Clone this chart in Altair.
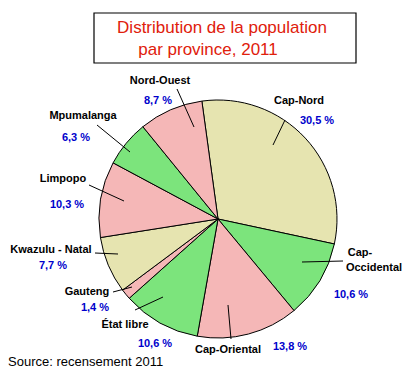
import math
import altair as alt
import pandas as pd

# ---- data ----
provinces = ["Cap-Nord", "Cap-Occidental", "Cap-Oriental", "État libre", "Gauteng",
             "Kwazulu-Natal", "Limpopo", "Mpumalanga", "Nord-Ouest"]
shares = [30.5, 10.6, 13.8, 10.6, 1.4, 7.7, 10.3, 6.3, 8.7]
slice_colors = ["#E6E4B0", "#7CE47C", "#F5B7B7", "#7CE47C", "#F5B7B7",
                "#E6E4B0", "#F5B7B7", "#7CE47C", "#F5B7B7"]
name_labels = ["Cap-Nord", "Cap-", "Cap-Oriental", "État libre", "Gauteng",
               "Kwazulu - Natal", "Limpopo", "Mpumalanga", "Nord-Ouest"]
title_lines = ["Distribution de la population", "par province, 2011"]
source_text = "Source: recensement 2011"

# ---- layout (page pixels) ----
W, H = 399, 360
M = 8
cx, cy, R = 218 - M, 219 - M, 119
start = -0.136
name_pos = [(299, 101), (360, 253), (228, 350), (125, 325), (87, 292),
            (51, 250), (63, 179), (83, 116), (160, 81)]
extra_name = ("Occidental", (374, 268))
pct_pos = [(317, 121), (351, 295), (290, 347), (155, 344), (95, 308),
           (53, 266), (67, 205), (76, 138), (158, 101)]
leaders = [((285, 120), (273, 145)), ((343, 261), (302, 262)), ((231, 339), (228, 305)),
           ((135, 310), (163, 297)), ((113, 292), (132, 287)), ((95, 253), (118, 254)),
           ((89, 185), (124, 201)), ((97, 125), (130, 152)), ((177, 89), (194, 127))]

pie_df = pd.DataFrame({"province": provinces, "share": shares,
                       "idx": list(range(len(provinces)))})

pie = alt.Chart(pie_df).mark_arc(stroke="black", strokeWidth=1, outerRadius=R).encode(
    theta=alt.Theta("share:Q", stack=True,
                    scale=alt.Scale(range=[start, 2 * math.pi + start])),
    order=alt.Order("idx:Q"),
    color=alt.Color("province:N", scale=alt.Scale(domain=provinces, range=slice_colors),
                    legend=None),
    x=alt.value(cx), y=alt.value(cy),
)

xs = alt.Scale(domain=[0, W], range=[0, W])
ys = alt.Scale(domain=[0, H], range=[0, H])

names = pd.DataFrame({
    "label": name_labels + [extra_name[0]],
    "x": [p[0] - M for p in name_pos] + [extra_name[1][0] - M],
    "y": [p[1] - M for p in name_pos] + [extra_name[1][1] - M],
})
pcts = pd.DataFrame({
    "label": [f"{v:.1f}".replace(".", ",") + " %" for v in shares],
    "x": [p[0] - M for p in pct_pos],
    "y": [p[1] - M for p in pct_pos],
})
lines = pd.DataFrame({
    "x": [a[0] - M for a, b in leaders], "y": [a[1] - M for a, b in leaders],
    "x2": [b[0] - M for a, b in leaders], "y2": [b[1] - M for a, b in leaders],
})

font = "Liberation Sans"

name_layer = alt.Chart(names).mark_text(font=font, fontSize=11, fontWeight="bold",
                                        color="black", baseline="middle").encode(
    x=alt.X("x:Q", scale=xs, axis=None), y=alt.Y("y:Q", scale=ys, axis=None), text="label:N")
pct_layer = alt.Chart(pcts).mark_text(font=font, fontSize=11, fontWeight="bold",
                                      color="#0000CC", baseline="middle").encode(
    x=alt.X("x:Q", scale=xs, axis=None), y=alt.Y("y:Q", scale=ys, axis=None), text="label:N")
line_layer = alt.Chart(lines).mark_rule(color="black", strokeWidth=1).encode(
    x=alt.X("x:Q", scale=xs, axis=None), y=alt.Y("y:Q", scale=ys, axis=None),
    x2="x2:Q", y2="y2:Q")

box = alt.Chart(pd.DataFrame({"a": [0]})).mark_rect(fill="white", stroke="black",
                                                    strokeWidth=1.2).encode(
    x=alt.value(94 - M), x2=alt.value(356 - M), y=alt.value(13 - M), y2=alt.value(63 - M))

title_df = pd.DataFrame({"label": title_lines, "x": [222 - M, 208 - M], "y": [28 - M, 50 - M]})
title_layer = alt.Chart(title_df).mark_text(font=font, fontSize=17, color="#E0200B",
                                            baseline="middle").encode(
    x=alt.X("x:Q", scale=xs, axis=None), y=alt.Y("y:Q", scale=ys, axis=None), text="label:N")

source_layer = alt.Chart(pd.DataFrame({"label": [source_text]})).mark_text(
    font=font, fontSize=13, color="black", align="left", baseline="alphabetic").encode(
    x=alt.value(0), y=alt.value(H - 2), text="label:N")

chart = alt.layer(pie, line_layer, name_layer, pct_layer, box, title_layer, source_layer).properties(
    width=W, height=H, autosize=alt.AutoSizeParams(type="none"), padding=0,
    background="white"
).configure_view(stroke=None)

chart.save("out.html", embed_options={"renderer": "svg", "actions": False})
